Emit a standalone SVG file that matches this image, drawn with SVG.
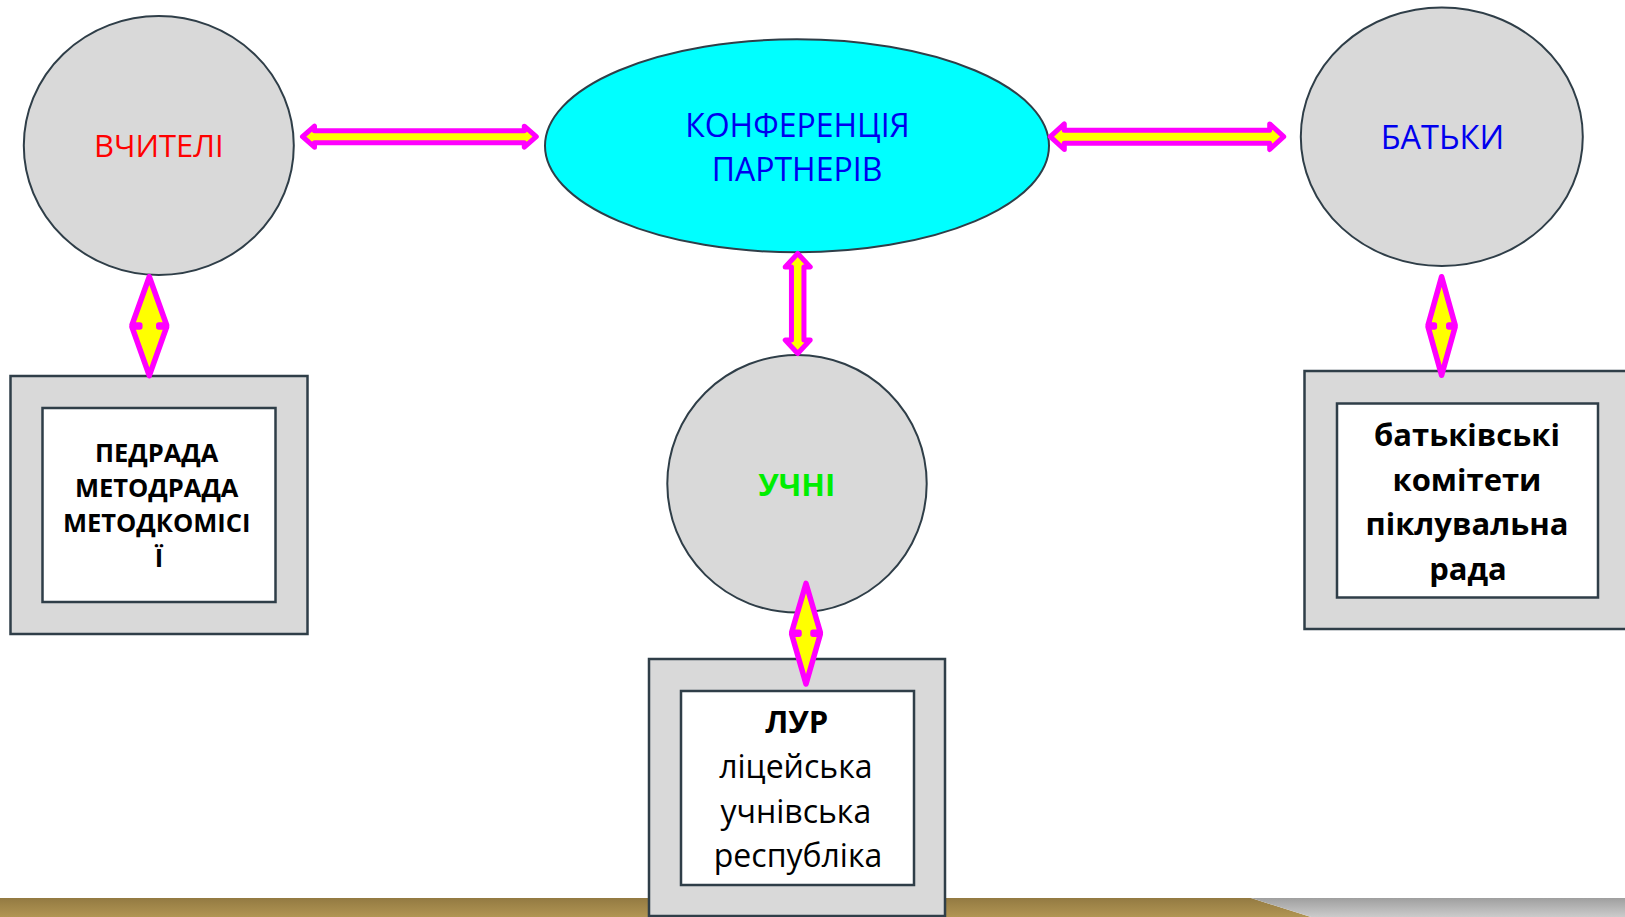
<svg xmlns="http://www.w3.org/2000/svg" width="1625" height="917" viewBox="0 0 1625 917">
<defs>
<linearGradient id="gBrown" x1="0" y1="0" x2="0" y2="1">
<stop offset="0" stop-color="#937a42"/>
<stop offset="1" stop-color="#b19553"/>
</linearGradient>
<linearGradient id="gGray" x1="0" y1="0" x2="0" y2="1">
<stop offset="0" stop-color="#9f9f9f"/>
<stop offset="1" stop-color="#cbcbcb"/>
</linearGradient>
<style>
.node{fill:#d9d9d9;stroke:#2f3e48;stroke-width:2}
.inner{fill:#ffffff;stroke:#2f3e48;stroke-width:2.5}
.outer{fill:#d9d9d9;stroke:#2f3e48;stroke-width:2.5}
.t{font-family:"Open Sans","Noto Sans","DejaVu Sans",sans-serif;text-anchor:middle}
.b{font-weight:bold;fill:#000000}
.arr{fill:#ffff00;stroke:#ff00ff;stroke-width:5;stroke-linejoin:round;stroke-linecap:round}
.dia{fill:#ffff00;stroke:#ff00ff;stroke-width:5.5;stroke-linejoin:round;stroke-linecap:round}
</style>
</defs>
<rect width="1625" height="917" fill="#ffffff"/>
<g id="band">
<polygon points="0,898 1251,898 1311,917 0,917" fill="url(#gBrown)"/>
<polygon points="1251,898 1625,898 1625,917 1311,917" fill="url(#gGray)"/>
</g>
<g id="teachers">
<ellipse class="node" cx="158.8" cy="145.5" rx="135" ry="129.5"/>
<text class="t" x="158.8" y="157.3" font-size="31" fill="#ff0000">ВЧИТЕЛІ</text>
</g>
<g id="conference">
<ellipse cx="797" cy="145.8" rx="252" ry="106.5" fill="#00ffff" stroke="#2f3e48" stroke-width="2"/>
<text class="t" x="797.5" y="136.7" font-size="32" fill="#0000ee">КОНФЕРЕНЦІЯ</text>
<text class="t" x="797" y="181" font-size="32" fill="#0000ee">ПАРТНЕРІВ</text>
</g>
<g id="parents">
<ellipse class="node" cx="1441.8" cy="136.7" rx="141" ry="129.3"/>
<text class="t" x="1442.4" y="149" font-size="32.5" fill="#0000ee">БАТЬКИ</text>
</g>
<g id="students">
<ellipse class="node" cx="797" cy="483.8" rx="129.7" ry="128.8"/>
<text class="t" x="796.7" y="495.7" font-size="31" font-weight="bold" fill="#00ee00">УЧНІ</text>
</g>
<g id="teachers-box">
<rect class="outer" x="10.5" y="376" width="297" height="258"/>
<rect class="inner" x="42.5" y="408" width="233" height="194"/>
<text class="t b" font-size="25.5">
<tspan x="160" y="461.7">ПЕДРАДА</tspan>
<tspan x="160" y="496.9">МЕТОДРАДА</tspan>
<tspan x="160" y="532.1">МЕТОДКОМІСІ</tspan>
<tspan x="159" y="567.3">Ї</tspan>
</text>
</g>
<g id="students-box">
<rect class="outer" x="649" y="659" width="296" height="257"/>
<rect class="inner" x="681" y="691" width="233" height="194"/>
<text class="t b" x="796.7" y="733.3" font-size="31">ЛУР</text>
<text class="t" font-size="32" fill="#000000">
<tspan x="800" y="778.2">ліцейська</tspan>
<tspan x="800" y="822.8">учнівська</tspan>
<tspan x="798" y="867.4">республіка</tspan>
</text>
</g>
<g id="parents-box">
<rect class="outer" x="1304.5" y="371" width="330" height="258"/>
<rect class="inner" x="1337" y="403.5" width="261" height="194"/>
<text class="t b" font-size="31">
<tspan x="1471" y="446">батьківські</tspan>
<tspan x="1471" y="490.7">комітети</tspan>
<tspan x="1471" y="535.4">піклувальна</tspan>
<tspan x="1468" y="580">рада</tspan>
</text>
</g>
<g id="connectors">
<polygon class="arr" points="302.5,136.7 314.5,126.2 314.5,130.7 524.3,130.7 524.3,126.2 536.3,136.7 524.3,147.2 524.3,142.7 314.5,142.7 314.5,147.2"/>
<polygon class="arr" points="1050.3,136.7 1064.3,123.9 1064.3,130.2 1269.7,130.2 1269.7,123.9 1283.7,136.7 1269.7,149.5 1269.7,143.2 1064.3,143.2 1064.3,149.5"/>
<polygon class="arr" points="797.7,253.5 810.2,267 803.95,267 803.95,340 810.2,340 797.7,353.5 785.2,340 791.45,340 791.45,267 785.2,267"/>
<polygon class="dia" points="149.3,276.7 166.6,325 158.8,325 158.8,327 166.6,327 149.3,375.6 132,327 139.8,327 139.8,325 132,325"/>
<polygon class="dia" points="1441.6,276.7 1455.1,325 1448.8,325 1448.8,327 1455.1,327 1441.6,375.3 1428.1,327 1434.4,327 1434.4,325 1428.1,325"/>
<polygon class="dia" points="806,583.4 820.3,632.3 813,632.3 813,634.3 820.3,634.3 806,684 791.7,634.3 799,634.3 799,632.3 791.7,632.3"/>
</g>
</svg>
